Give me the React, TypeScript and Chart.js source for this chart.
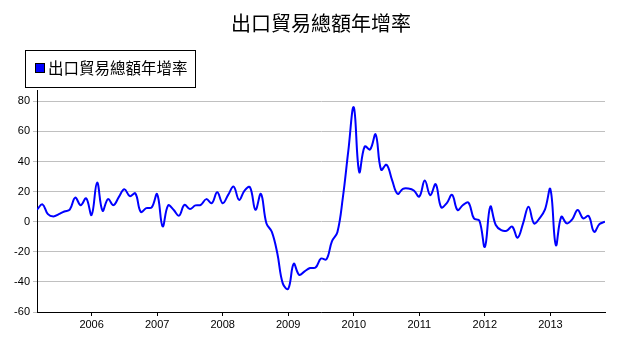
import React, { useEffect, useRef } from "react";
import { Chart, registerables } from "chart.js";

Chart.register(...registerables);

const TITLE = "出口貿易總額年增率";
const SERIES_LABEL = "出口貿易總額年增率";

// Monthly year-over-year growth (%), series begins March 2005
const FIRST_YEAR = 2005;
const FIRST_MONTH = 3;
const growth2005 = [8, 11.5, 5, 3.5, 5, 6.8, 8, 16, 11, 15.5];
const growth2006 = [4.5, 26, 7.3, 15, 11, 16.5, 21.5, 17, 18.8, 6.5, 9, 9.5];
const growth2007 = [18.3, -3.1, 10.8, 7.9, 4, 11.2, 8.4, 10.8, 11.2, 15, 12.3, 19.6];
const growth2008 = [12.3, 17.8, 23.3, 14.5, 20.7, 22.9, 7.9, 18.5, -1, -6.8, -21, -41];
const growth2009 = [-44.6, -28, -35.3, -33, -30.8, -30.5, -24.5, -25, -13, -7, 16, 47];
const growth2010 = [76, 33, 50, 48, 58, 34.5, 37.8, 27.8, 18.5, 21.8, 22, 20.7];
const growth2011 = [16.7, 27.3, 17.6, 24.9, 9.6, 12.2, 17.8, 7.8, 11.1, 12.7, 2.2, 0.7];
const growth2012 = [-16.7, 10, -2.2, -5.6, -6, -3.3, -10.7, -1.1, 10, -1.1, 2.2, 8];
const growth2013 = [21.6, -15.6, 3.3, -1.1, 1.6, 7.8, 2.2, 3.8, -6.7, -1.6, 0];

const yearlyGrowth: [number, number[]][] = [
  [2005, growth2005],
  [2006, growth2006],
  [2007, growth2007],
  [2008, growth2008],
  [2009, growth2009],
  [2010, growth2010],
  [2011, growth2011],
  [2012, growth2012],
  [2013, growth2013],
];

const Y_MIN = -60;
const Y_MAX = 87.5;
const Y_STEP = 20;
const X_TICK_STEP = 1;

function buildPoints() {
  const pts: { x: number; y: number }[] = [];
  for (const [year, vals] of yearlyGrowth) {
    const startMonth = year === FIRST_YEAR ? FIRST_MONTH : 1;
    vals.forEach((v, i) => {
      pts.push({ x: year + (startMonth - 1 + i) / 12, y: v });
    });
  }
  return pts;
}

const legendBoxPlugin = {
  id: "legendBox",
  afterDraw(chart: any) {
    const ctx = chart.ctx as CanvasRenderingContext2D;
    const ds = chart.data.datasets[0];
    ctx.save();
    ctx.lineWidth = 1;
    ctx.strokeStyle = "#000000";
    ctx.strokeRect(25.5, 50.5, 170, 37);
    ctx.fillStyle = ds.borderColor;
    ctx.fillRect(35.5, 63.5, 9, 9);
    ctx.strokeRect(35.5, 63.5, 9, 9);
    ctx.fillStyle = "#000000";
    ctx.font = '15.5px "Noto Sans CJK TC"';
    ctx.textBaseline = "middle";
    ctx.textAlign = "left";
    ctx.fillText(ds.label, 48, 68.5);
    ctx.restore();
  },
};

export default function App() {
  const ref = useRef<HTMLCanvasElement | null>(null);

  useEffect(() => {
    if (!ref.current) return;
    const chart = new Chart(ref.current, {
      type: "line",
      data: {
        datasets: [
          {
            label: SERIES_LABEL,
            data: buildPoints(),
            borderColor: "#0000ff",
            backgroundColor: "#0000ff",
            borderWidth: 2,
            pointRadius: 0,
            tension: 0.4,
            fill: false,
          },
        ],
      },
      options: {
        animation: false,
        responsive: false,
        maintainAspectRatio: false,
        layout: { padding: { left: 0, right: 16, top: 0, bottom: 0 } },
        plugins: {
          legend: { display: false },
          tooltip: { enabled: false },
          title: {
            display: true,
            fullSize: false,
            text: TITLE,
            color: "#000000",
            font: { family: '"Noto Sans CJK TC"', size: 20, weight: "normal" },
            padding: { top: 11, bottom: 55 },
          },
        },
        scales: {
          x: {
            type: "linear",
            min: FIRST_YEAR + (FIRST_MONTH - 1) / 12,
            max: 2013 + 10 / 12,
            afterFit: (s: any) => {
              s.height = 42;
            },
            border: { color: "#000000", width: 1 },
            grid: {
              drawOnChartArea: false,
              drawTicks: true,
              tickLength: 4,
              color: "#000000",
            },
            ticks: {
              stepSize: X_TICK_STEP,
              includeBounds: false,
              padding: 2,
              color: "#000000",
              font: { family: '"Liberation Sans", Arial', size: 11 },
              callback: (v: any) => String(v),
              maxRotation: 0,
            },
          },
          y: {
            min: Y_MIN,
            max: Y_MAX,
            afterFit: (s: any) => {
              s.width = 37;
            },
            border: { color: "#000000", width: 1 },
            grid: {
              color: "#c0c0c0",
              lineWidth: 1,
              tickLength: 4,
              drawTicks: true,
            },
            ticks: {
              stepSize: Y_STEP,
              includeBounds: false,
              padding: 3,
              color: "#000000",
              font: { family: '"Liberation Sans", Arial', size: 11 },
              callback: (v: any) => String(v),
            },
          },
        },
      },
      plugins: [legendBoxPlugin],
    });
    return () => chart.destroy();
  }, []);

  return (
    <div style={{ position: "absolute", left: 0, top: 0, width: 621, height: 354, background: "#ffffff" }}>
      <canvas ref={ref} width={621} height={354} style={{ width: 621, height: 354, display: "block" }} />
    </div>
  );
}
